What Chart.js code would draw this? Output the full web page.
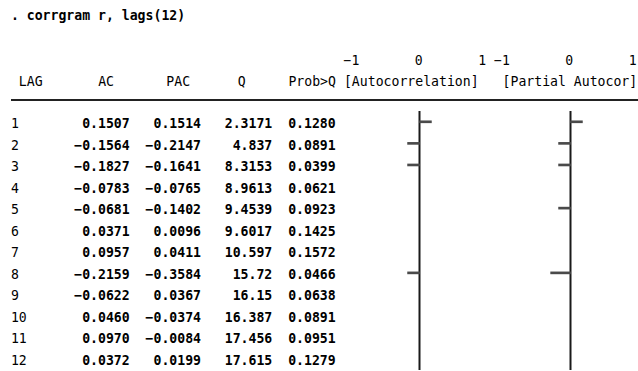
<!DOCTYPE html>
<html>
<head>
<meta charset="utf-8">
<script src="https://cdn.jsdelivr.net/npm/chart.js@4"></script>
<style>
  html, body { margin: 0; padding: 0; background: #fff; }
  body { width: 638px; height: 371px; position: relative; overflow: hidden; }
  .ln { position: absolute; left: 10.9px; white-space: pre; font-family: "DejaVu Sans Mono", monospace;
        font-size: 13.17px; line-height: 21.5px; height: 21.5px; color: #000; }
  .ln b { font-weight: bold; }
  #rule { position: absolute; left: 10.9px; width: 628px; top: 99px; height: 2px; background: #222; }
  canvas { position: absolute; top: 111px; }
</style>
</head>
<body>
<script>
// ---- data ----
const lags = [1, 2, 3, 4, 5, 6, 7, 8, 9, 10, 11, 12];
const ac   = [0.1507, -0.1564, -0.1827, -0.0783, -0.0681, 0.0371, 0.0957, -0.2159, -0.0622, 0.0460, 0.0970, 0.0372];
const pac  = [0.1514, -0.2147, -0.1641, -0.0765, -0.1402, 0.0096, 0.0411, -0.3584, 0.0367, -0.0374, -0.0084, 0.0199];
const qStat = [2.3171, 4.837, 8.3153, 8.9613, 9.4539, 9.6017, 10.597, 15.72, 16.15, 16.387, 17.456, 17.615];
const probQ = [0.1280, 0.0891, 0.0399, 0.0621, 0.0923, 0.1425, 0.1572, 0.0466, 0.0638, 0.0891, 0.0951, 0.1279];
const tickLabels = ['−1', '0', '1'];
const headers = ['LAG', 'AC', 'PAC', 'Q', 'Prob>Q', '[Autocorrelation]', '[Partial Autocor]'];
const command = '. corrgram r, lags(12)';

// ---- text (monospaced Stata-style listing) ----
const CW = 7.93, X0 = 10.9;
const minus = s => s.replace('-', '−');
const f4 = v => minus(v.toFixed(4));
const fq = v => minus(parseFloat(v.toPrecision(5)).toString());
const esc = s => s.replace(/&/g, '&amp;').replace(/</g, '&lt;').replace(/>/g, '&gt;');

function addLine(top, html, col) {
  const d = document.createElement('div');
  d.className = 'ln';
  d.style.top = top + 'px';
  if (col !== undefined) d.style.left = (X0 + col * CW) + 'px';
  d.innerHTML = html;
  document.body.appendChild(d);
}

addLine(5, '<b>' + esc(command) + '</b>');
const tk = tickLabels;
const tickLine = ' '.repeat(42) + tk[0] + ' '.repeat(7) + tk[1] + ' '.repeat(7) + tk[2] + ' ' +
                 tk[0] + ' '.repeat(7) + tk[1] + ' '.repeat(7) + tk[2];
addLine(50, tickLine);
// header labels at their columns
const headerCols = [1, 11, 19.6, 28.6, 35, 42, 62];
headers.forEach((h, k) => addLine(71.2, esc(h), headerCols[k]));
const rule = document.createElement('div'); rule.id = 'rule'; document.body.appendChild(rule);

lags.forEach((lag, i) => {
  const nums = f4(ac[i]).padStart(7) + f4(pac[i]).padStart(9) + fq(qStat[i]).padStart(9) + f4(probQ[i]).padStart(8);
  addLine(113.2 + 21.5 * i, String(lag).padEnd(8) + '<b>' + nums + '</b>');
});

// ---- character-style bars (Stata draws |v|*8 truncated dash cells) ----
const barOf = v => {
  const n = Math.trunc(Math.abs(v) * 8);
  return n === 0 ? null : [0, Math.sign(v) * (n + 0.5) / 8];
};

const zeroLine = {
  id: 'zeroLine',
  beforeDatasetsDraw(chart) {
    const { ctx, chartArea, scales } = chart;
    const x = scales.x.getPixelForValue(0);
    ctx.save();
    ctx.strokeStyle = '#1a1a1a';
    ctx.lineWidth = 2;
    ctx.beginPath();
    ctx.moveTo(x, chartArea.top);
    ctx.lineTo(x, chartArea.bottom);
    ctx.stroke();
    ctx.restore();
  }
};

function makeChart(left, values) {
  const c = document.createElement('canvas');
  c.width = 135; c.height = 259;
  c.style.left = left + 'px';
  c.style.width = '135px'; c.style.height = '259px';
  document.body.appendChild(c);
  new Chart(c, {
    type: 'bar',
    data: {
      labels: lags.map(String),
      datasets: [{
        data: values.map(barOf),
        backgroundColor: '#4a4a4a',
        borderWidth: 0,
        barThickness: 2
      }]
    },
    options: {
      indexAxis: 'y',
      responsive: false,
      animation: false,
      devicePixelRatio: 1,
      layout: { padding: 0 },
      plugins: { legend: { display: false }, tooltip: { enabled: false } },
      scales: {
        x: { type: 'linear', min: -1.0625, max: 1.0625, display: false },
        y: { type: 'category', display: false, offset: true }
      }
    },
    plugins: [zeroLine]
  });
}

makeChart(351.8, ac);
makeChart(502.5, pac);
</script>
</body>
</html>
